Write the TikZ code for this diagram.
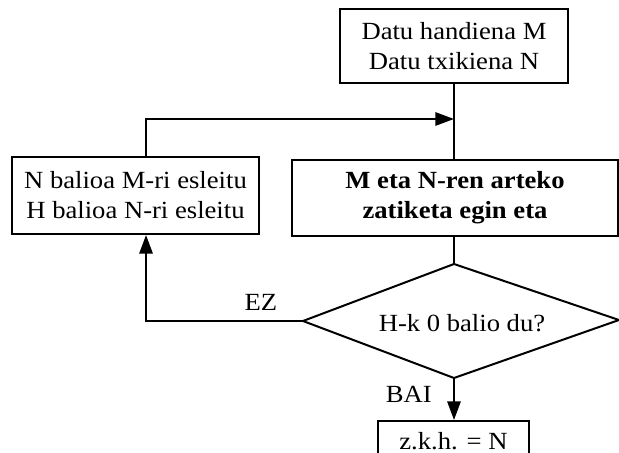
\documentclass[tikz,border=0pt]{standalone}
\usepackage{fontspec}
\setmainfont{Liberation Serif}[FakeStretch=1.08]
\usetikzlibrary{arrows.meta,positioning}

\begin{document}
\begin{tikzpicture}[
  x=0.75pt,y=-0.75pt,
  box/.style={draw,line width=1.5pt,inner sep=0pt,align=center,
              font=\fontsize{18.5pt}{22.5pt}\selectfont},
  txt/.style={inner sep=0pt,align=center,
              font=\fontsize{18.5pt}{22.5pt}\selectfont},
  line/.style={line width=1.5pt},
  arr/.style={line width=1.5pt,-{Triangle[length=14pt,width=10pt]}},
  lbl/.style={inner sep=0pt,font=\fontsize{18.5pt}{22.5pt}\selectfont}
]
\clip (0,0) rectangle (619,453);

\node[box,minimum width=171pt,minimum height=55.5pt] (start) at (454,46)
  {Datu handiena M\\Datu txikiena N};
\node[box,minimum width=244.5pt,minimum height=57pt] (divide) at (455,198)
  {\bfseries M eta N-ren arteko\\\bfseries zatiketa egin eta};
\node[box,minimum width=185.25pt,minimum height=57.75pt] (assign) at (135.5,195.5)
  {N balioa M-ri esleitu\\H balioa N-ri esleitu};
\node[box,minimum width=113.25pt,minimum height=30pt] (result) at (453.5,441)
  {z.k.h. = N};

% decision
\coordinate (ctop)    at (454,264);
\coordinate (cleft)   at (303,321);
\coordinate (cright)  at (619,320);
\coordinate (cbottom) at (454,378);
\draw[line] (ctop) -- (cright) -- (cbottom) -- (cleft) -- cycle;
\node[txt] (check) at (462,323) {H-k 0 balio du?};

% flow
\coordinate (merge) at (454,119);
\draw[line] (start.south) -- (start.south |- divide.north);
\draw[arr] ([xshift=7.9pt]assign.north) |- (merge);
\draw[line] (divide.south -| ctop) -- (ctop);
\draw[arr] (cleft) -| node[lbl,pos=0.134,above=7pt]{EZ} ([xshift=7.9pt]assign.south);
\draw[arr] (cbottom) -- node[lbl,pos=0.4,left=16pt]{BAI} (result.north -| cbottom);
\end{tikzpicture}
\end{document}
